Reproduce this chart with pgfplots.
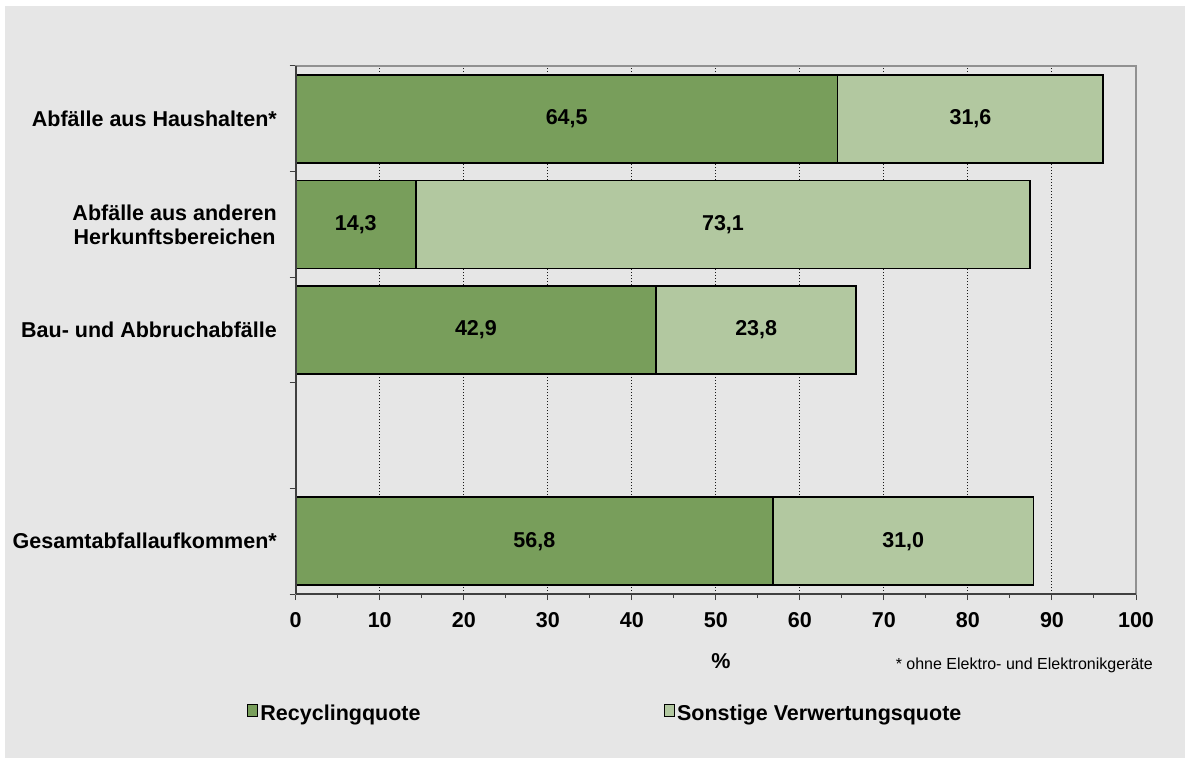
\documentclass[border=0pt]{standalone}
\usepackage{fontspec}
\setmainfont{Liberation Sans}
\usepackage{pgfplots}
\pgfplotsset{compat=1.18}
\definecolor{rec}{RGB}{120,158,91}
\definecolor{son}{RGB}{178,200,160}
\definecolor{bg}{RGB}{230,230,230}
\definecolor{boxgray}{RGB}{145,145,145}
\definecolor{axdark}{RGB}{64,64,64}
\newcommand{\lbl}{\fontsize{21.5bp}{24bp}\selectfont\bfseries}
\pgfplotsset{mylegend/.style={legend image code/.code={\draw[##1,line width=1.5bp] (0bp,-3bp) rectangle (10bp,9bp);}}}
\begin{document}
\begin{tikzpicture}
\fill[white] (-295.7bp,-164bp) rectangle (889.3bp,594bp);
\fill[bg] (-290.7bp,-164bp) rectangle (889.3bp,588bp);
\useasboundingbox (-295.7bp,-164bp) rectangle (889.3bp,594bp);
\begin{axis}[
  name=main,
  at={(0,0)}, anchor=south west,
  scale only axis, width=840.3bp, height=528bp,
  xbar stacked, bar width=0.833,
  xmin=0, xmax=100, ymin=0.5, ymax=5.5,
  xtick={0,10,...,100}, minor x tick num=1,
  ytick={0.5,1.5,2.5,3.5,4.5,5.5}, yticklabels={,,,,,},
  extra y ticks={1,3,4,5},
  extra y tick labels={Gesamtabfallaufkommen*,Bau- und Abbruchabfälle,{Abfälle aus anderen\\Herkunftsbereichen},Abfälle aus Haushalten*},
  extra y tick style={major tick length=0pt},
  tick pos=left, tick align=outside,
  major tick length=6bp, minor tick length=4bp,
  tick style={axdark, line width=1bp},
  xmajorgrids,
  major grid style={black!90, line width=1bp, dash pattern=on 1.5bp off 1.5bp},
  axis line style={boxgray, line width=2bp},
  ticklabel style={font=\lbl, inner sep=0pt},
  /pgf/number format/assume math mode=true,
  yticklabel style={align=center, anchor=east, xshift=-18.7bp},
  xticklabel style={anchor=north, yshift=-12.5bp},
  xlabel={\%},
  xlabel style={at={(axis description cs:0.506,0)}, anchor=base, yshift=-74bp, font=\lbl, inner sep=0pt},
  legend columns=2,
  legend style={at={(axis description cs:-0.058,-0.2254)}, anchor=west, draw=none, fill=none,
    inner sep=0pt, outer sep=0pt, font=\lbl, nodes={inner sep=0pt},
    /tikz/every odd column/.append style={column sep=2bp},
    /tikz/every even column/.append style={column sep=243bp}},
]
\addplot[fill=rec, draw=black, line width=1.5bp, mylegend] coordinates {(64.5,5) (14.3,4) (42.9,3) (56.8,1)};
\addlegendentry{Recyclingquote}
\addplot[fill=son, draw=black, line width=1.5bp, mylegend] coordinates {(31.6,5) (73.1,4) (23.8,3) (31.0,1)};
\addlegendentry{Sonstige Verwertungsquote}
\end{axis}
\begin{axis}[
  at={(0,0)}, anchor=south west,
  scale only axis, width=840.3bp, height=528bp,
  xmin=0, xmax=100, ymin=0.5, ymax=5.5,
  axis x line*=bottom, axis y line*=left,
  axis line style={axdark, line width=2bp, -},
  xtick=\empty, ytick=\empty,
  /pgf/number format/.cd, use comma, fixed, fixed zerofill, precision=1, assume math mode=true,
]
\addplot[draw=none, mark=none, nodes near coords, point meta=explicit,
  nodes near coords align=center,
  every node near coord/.append style={font=\lbl, anchor=center, text=black}]
  coordinates {(32.25,5) [64.5] (80.3,5) [31.6] (7.15,4) [14.3] (50.85,4) [73.1]
               (21.45,3) [42.9] (54.8,3) [23.8] (28.4,1) [56.8] (72.3,1) [31.0]};
\end{axis}
\node[anchor=base east, font=\fontsize{16bp}{19bp}\selectfont, inner sep=0pt] at ([xshift=17bp, yshift=-75bp]main.south east) {* ohne Elektro- und Elektronikgeräte};
\end{tikzpicture}
\end{document}
